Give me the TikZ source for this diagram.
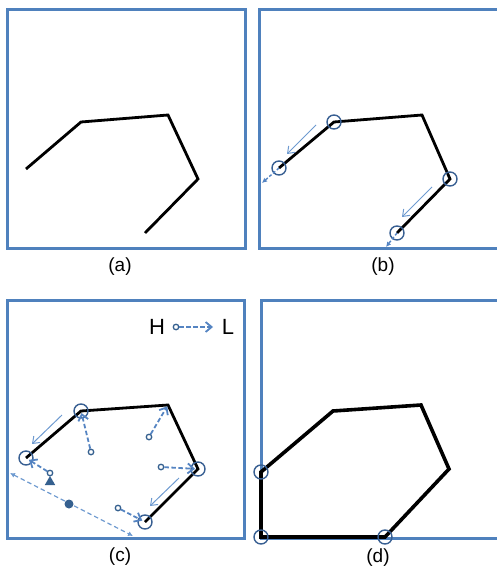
\documentclass[tikz,border=0pt]{standalone}
\usepackage{fontspec}
\setmainfont{Liberation Sans}
\usetikzlibrary{arrows.meta,shapes.geometric,calc}
\definecolor{boxblue}{HTML}{4F81BD}
\definecolor{arrblue}{HTML}{5584C2}
\definecolor{thinblue}{HTML}{6E9AD0}
\definecolor{circblue}{HTML}{385F92}
\definecolor{darkblue}{HTML}{35608F}
\tikzset{
  frame/.style={draw=boxblue, line width=3pt},
  poly/.style={draw=black, line width=2.8pt, line join=miter},
  polythick/.style={draw=black, line width=3.6pt, line join=miter},
  vcirc/.style={circle, draw=circblue, line width=1.4pt, minimum size=14pt, inner sep=0pt},
  thinarr/.style={draw=thinblue, line width=1pt, -{Straight Barb[length=6pt,width=9pt]}},
  hl/.style={draw=arrblue, line width=1.8pt, dash pattern=on 4.5pt off 2.5pt, -{Straight Barb[length=6pt,width=10pt]}},
  src/.style={circle, draw=darkblue, line width=1.3pt, fill=white, minimum size=5.5pt, inner sep=0pt},
  smallarr/.style={draw=arrblue, line width=1.4pt, dash pattern=on 3pt off 2pt, -{Latex[length=5pt,width=5pt]}},
  dimline/.style={draw=thinblue, line width=1.2pt, dash pattern=on 4.5pt off 3pt, {Latex[length=5pt,width=5pt]}-{Latex[length=5pt,width=5pt]}},
  lab/.style={font=\fontsize{19}{19}\selectfont, inner sep=0pt},
  legend/.style={font=\fontsize{22}{22}\selectfont, inner sep=0pt}
}
\begin{document}
\begin{tikzpicture}[x=1pt,y=-1pt]
\useasboundingbox (0,0) rectangle (497,572);
% ---------- (a)
\draw[frame] (7,10) rectangle (245,248);
\coordinate (a1) at (26,169);
\coordinate (a2) at (81,122);
\coordinate (a3) at (168,115);
\coordinate (a4) at (198,179);
\coordinate (a5) at (145,233);
\draw[poly] (a1) -- (a2) -- (a3) -- (a4) -- (a5);
\node[lab] (la) at (120,267) {(a)};
% ---------- (b)
\draw[frame] (499,10) -- (259,10) -- (259,248) -- (499,248);
\coordinate (b1) at (279,168);
\coordinate (b2) at (334,122);
\coordinate (b3) at (422,115);
\coordinate (b4) at (450,179);
\coordinate (b5) at (397,233);
\draw[poly] (b1) -- (b2) -- (b3) -- (b4) -- (b5);
\node[vcirc] (cb1) at (b1) {};
\node[vcirc] (cb2) at (b2) {};
\node[vcirc] (cb4) at (b4) {};
\node[vcirc] (cb5) at (b5) {};
\coordinate (tb1s) at (316,125); \coordinate (tb1e) at (287,154);
\coordinate (tb2s) at (432,187); \coordinate (tb2e) at (402,217);
\draw[thinarr] (tb1s) -- (tb1e);
\draw[thinarr] (tb2s) -- (tb2e);
\coordinate (eb1) at (262,183);
\coordinate (eb5) at (386,247);
\draw[smallarr] (b1) -- (eb1);
\draw[smallarr] (b5) -- (eb5);
\node[lab] (lb) at (383,267) {(b)};
% ---------- (c)
\draw[frame] (7,300) rectangle (244,538);
\coordinate (c1) at (26,458);
\coordinate (c2) at (81,411);
\coordinate (c3) at (168,405);
\coordinate (c4) at (198,469);
\coordinate (c5) at (145,522);
\draw[poly] (c1) -- (c2) -- (c3) -- (c4) -- (c5);
\node[vcirc] (cc1) at (c1) {};
\node[vcirc] (cc2) at (c2) {};
\node[vcirc] (cc4) at (c4) {};
\node[vcirc] (cc5) at (c5) {};
\coordinate (tc1s) at (62,415); \coordinate (tc1e) at (32,444);
\coordinate (tc2s) at (179,478); \coordinate (tc2e) at (150,506);
\draw[thinarr] (tc1s) -- (tc1e);
\draw[thinarr] (tc2s) -- (tc2e);
\coordinate (d0s) at (10,473);
\coordinate (d0e) at (133,536);
\draw[dimline] (d0s) -- (d0e);
\node[src] (s1) at (50,473) {};
\node[src] (s2) at (91,452) {};
\node[src] (s3) at (149,437) {};
\node[src] (s4) at (161,467) {};
\node[src] (s5) at (118,508) {};
\draw[hl] (s1) -- ($(c1)!0.12!(s1)$);
\draw[hl] (s2) -- ($(c2)!0.05!(s2)$);
\draw[hl] (s3) -- ($(c3)!0.04!(s3)$);
\draw[hl] (s4) -- ($(c4)!0.08!(s4)$);
\draw[hl] (s5) -- ($(c5)!0.1!(s5)$);
\node[regular polygon, regular polygon sides=3, fill=darkblue, minimum size=12pt, inner sep=0pt] (tri) at (50,482) {};
\node[circle, fill=darkblue, minimum size=9pt, inner sep=0pt] (dot) at (69,504) {};
\node[legend] (H) at (157,327) {H};
\node[src] (hs) at (176,327) {};
\coordinate (he) at (213,327);
\draw[hl] (hs) -- (he);
\node[legend] (L) at (228,327) {L};
\node[lab] (lc) at (120,557) {(c)};
% ---------- (d)
\draw[frame] (499,300) -- (261,300) -- (261,538) -- (499,538);
\coordinate (d1) at (261,472);
\coordinate (d2) at (333,411);
\coordinate (d3) at (421,405);
\coordinate (d4) at (449,469);
\coordinate (d5) at (385,537);
\coordinate (d6) at (261,537);
\draw[polythick] (d1) -- (d2) -- (d3) -- (d4) -- (d5) -- (d6) -- cycle;
\node[vcirc] (cd1) at (d1) {};
\node[vcirc] (cd5) at (d5) {};
\node[vcirc] (cd6) at (d6) {};
\node[lab] (ld) at (378,558) {(d)};
\end{tikzpicture}
\end{document}
